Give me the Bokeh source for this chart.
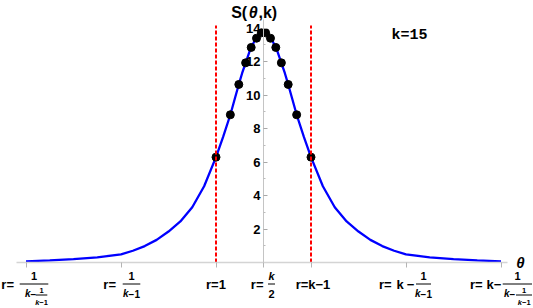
import numpy as np
from bokeh.plotting import figure
from bokeh.models import LinearAxis, FixedTicker, Range1d, ColumnDataSource
from bokeh.core.properties import value
from bokeh.embed import file_html
from bokeh.resources import INLINE

# ---------------- data ----------------
K = 15
curve_theta = [-5.0, -4.5, -4.0, -3.5, -3.0, -2.75, -2.5, -2.25, -2.0, -1.75, -1.5, -1.25,
               -1.0, -0.85, -0.698, -0.6, -0.52, -0.45, -0.376, -0.3, -0.259, -0.2, -0.147,
               -0.1, -0.045, 0.0, 0.045, 0.1, 0.147, 0.2, 0.259, 0.3, 0.376, 0.45, 0.52, 0.6,
               0.698, 0.85, 1.0, 1.25, 1.5, 1.75, 2.0, 2.25, 2.5, 2.75, 3.0, 3.5, 4.0, 4.5, 5.0]
curve_S = [0.07, 0.13, 0.2, 0.31, 0.48, 0.7, 0.98, 1.35, 1.85, 2.45, 3.3, 4.55,
           6.29, 7.5, 8.82, 9.82, 10.63, 11.3, 11.92, 12.55, 12.84, 13.17, 13.39,
           13.56, 13.71, 13.75, 13.71, 13.56, 13.39, 13.17, 12.84, 12.55, 11.92, 11.3, 10.63, 9.82,
           8.82, 7.5, 6.29, 4.55, 3.3, 2.45, 1.85, 1.35, 0.98, 0.7, 0.48, 0.31, 0.2, 0.13, 0.07]
point_theta = [-1.0, -0.698, -0.52, -0.376, -0.259, -0.147, -0.045,
               0.045, 0.147, 0.259, 0.376, 0.52, 0.698, 1.0]
point_S = [6.29, 8.82, 10.63, 11.92, 12.84, 13.39, 13.71,
           13.71, 13.39, 12.84, 11.92, 10.63, 8.82, 6.29]
boundary_theta = [-1.0, 1.0]          # r = 1 and r = k-1
tick_theta = [-5, -3, -1, 0, 1, 3, 5]
y_ticks = [2, 4, 6, 8, 10, 12, 14]
y_minor = [1, 3, 5, 7, 9, 11, 13]

# ---------------- layout constants ----------------
W, H = 533, 308
UX, UY = 47.5, 16.75         # px per data unit
X0, Y0 = 263.0, 262.0        # frame px of the origin
FONT = "Liberation Sans"

p = figure(width=W, height=H, output_backend="svg", toolbar_location=None,
           x_range=Range1d(-X0 / UX, (W - X0) / UX),
           y_range=Range1d(-(H - Y0) / UY, Y0 / UY),
           x_axis_location=None, y_axis_location=None,
           min_border=0, outline_line_color=None)
p.xgrid.visible = False
p.ygrid.visible = False

xax = LinearAxis(fixed_location=0, ticker=FixedTicker(ticks=tick_theta),
                 bounds=(-5.2, 5.13), axis_line_color="#d4d4d4", axis_line_width=1.5,
                 major_tick_in=0, major_tick_out=5, major_tick_line_color="#b4b4b4",
                 minor_tick_line_color=None,
                 major_label_overrides={t: "" for t in tick_theta})
p.add_layout(xax, "below")
yax = LinearAxis(fixed_location=0, ticker=FixedTicker(ticks=y_ticks, minor_ticks=y_minor),
                 bounds=(0, 14.5), axis_line_color="#c4c4c4", axis_line_width=1,
                 major_tick_in=4, major_tick_out=0, minor_tick_in=2, minor_tick_out=0,
                 major_tick_line_color="#a8a8a8", minor_tick_line_color="#bcbcbc",
                 major_label_text_font=FONT, major_label_text_font_size="13px",
                 major_label_text_font_style="bold", major_label_text_color="black",
                 major_label_standoff=3)
p.add_layout(yax, "left")

# curve, points, boundaries
p.line(curve_theta, curve_S, line_color="#0000ff", line_width=2.3)
p.scatter(point_theta, point_S, size=8, fill_color="black", line_color="black")
p.segment(x0=boundary_theta, y0=[0, 0], x1=boundary_theta, y1=[14.15, 14.15],
          line_color="#ff0000", line_width=2, line_dash="4 2")

# ---------------- x tick labels (with fractions) ----------------
MAIN, NUM, BAR, DEN, NNUM, NBAR, NDEN = 21.5, 13.5, 21.5, 31.0, 28.0, 32.5, 40.0
B, BI = "bold", "bold italic"
# (tick index, dx px, dy px, text, font px, style, align)
pieces = [
    (0, -12, MAIN, "r=", 13, B, "right"),
    (0, 8, NUM, "1", 11, B, "center"),
    (0, 1.8, DEN, "k", 10, BI, "center"),
    (0, 7.4, DEN, "\u2212", 10, B, "center"),
    (0, 15.5, NNUM, "1", 7.5, B, "center"),
    (0, 13.3, NDEN, "k", 7.5, BI, "right"),
    (0, 13.3, NDEN, "\u22121", 7.5, B, "left"),
    (1, -5, MAIN, "r=", 13, B, "right"),
    (1, 10.5, NUM, "1", 11, B, "center"),
    (1, 7.6, DEN, "k", 10, BI, "right"),
    (1, 7.6, DEN, "\u22121", 10, B, "left"),
    (2, 0, MAIN, "r=1", 13, B, "center"),
    (3, 0, MAIN, "r=", 13, B, "right"),
    (3, 8, NUM, "k", 11, BI, "center"),
    (3, 8, DEN, "2", 11, B, "center"),
    (4, 2, MAIN, "r=k\u22121", 13, B, "center"),
    (5, -14.3, MAIN, "r=", 13, B, "right"),
    (5, -6, MAIN, "k", 13, B, "center"),
    (5, 4.5, MAIN, "\u2212", 13, B, "center"),
    (5, 17.5, NUM, "1", 11, B, "center"),
    (5, 14.6, DEN, "k", 10, BI, "right"),
    (5, 14.6, DEN, "\u22121", 10, B, "left"),
    (6, -18.3, MAIN, "r=", 13, B, "right"),
    (6, -11, MAIN, "k", 13, B, "center"),
    (6, -3.5, MAIN, "\u2212", 13, B, "center"),
    (6, 16.5, NUM, "1", 11, B, "center"),
    (6, 5.7, DEN, "k", 10, BI, "center"),
    (6, 11.5, DEN, "\u2212", 10, B, "center"),
    (6, 23.2, NNUM, "1", 7.5, B, "center"),
    (6, 21.0, NDEN, "k", 7.5, BI, "right"),
    (6, 21.0, NDEN, "\u22121", 7.5, B, "left"),
]
src = ColumnDataSource(dict(
    x=[tick_theta[i] for i, *_ in pieces],
    y=[0.0] * len(pieces),
    xo=[pc[1] for pc in pieces],
    yo=[pc[2] for pc in pieces],
    t=[pc[3] for pc in pieces],
    fs=["%gpx" % pc[4] for pc in pieces],
    st=[pc[5] for pc in pieces],
    al=[pc[6] for pc in pieces],
))
p.text(x="x", y="y", x_offset="xo", y_offset="yo", text="t", text_font_size="fs",
       text_font_style="st", text_align="al", text_baseline="middle",
       text_font=value(FONT), text_color="black", source=src)

# fraction bars: (tick index, dx0, dx1, dy)
bars = [(0, -6.3, 22.3, BAR), (0, 9.7, 21.3, NBAR), (1, 1.7, 19.3, BAR),
        (3, 4.5, 11.5, BAR), (5, 10, 25, BAR), (6, 1.7, 31, BAR), (6, 15, 31, NBAR)]
p.segment(x0=[tick_theta[b[0]] + b[1] / UX for b in bars],
          x1=[tick_theta[b[0]] + b[2] / UX for b in bars],
          y0=[-b[3] / UY for b in bars], y1=[-b[3] / UY for b in bars],
          line_color="black", line_width=1)

# ---------------- other texts ----------------
TY = (Y0 - 12) / UY
p.text(x=[0, 0, 0], y=[TY] * 3, x_offset=[-16.3, -10.2, -5.0], y_offset=[0, 0, 0],
       text=["S(", "\u03b8", ",k)"], text_align=["right", "center", "left"],
       text_font_style=[B, BI, B], text_font_size="16px", text_baseline="middle",
       text_font=value(FONT), text_color="black")
p.text(x=[(391 - X0) / UX], y=[(Y0 - 34.5) / UY], text=["k=%d" % K],
       text_font=value("Liberation Mono"), text_font_style="bold", text_font_size="15px",
       text_align="left", text_baseline="middle", text_color="black")
p.text(x=[(520 - X0) / UX], y=[0], text=["\u03b8"], text_font=value(FONT),
       text_font_style="bold italic", text_font_size="15px", text_align="center",
       text_baseline="middle", text_color="black")

open("out.html", "w").write(file_html(p, INLINE))
